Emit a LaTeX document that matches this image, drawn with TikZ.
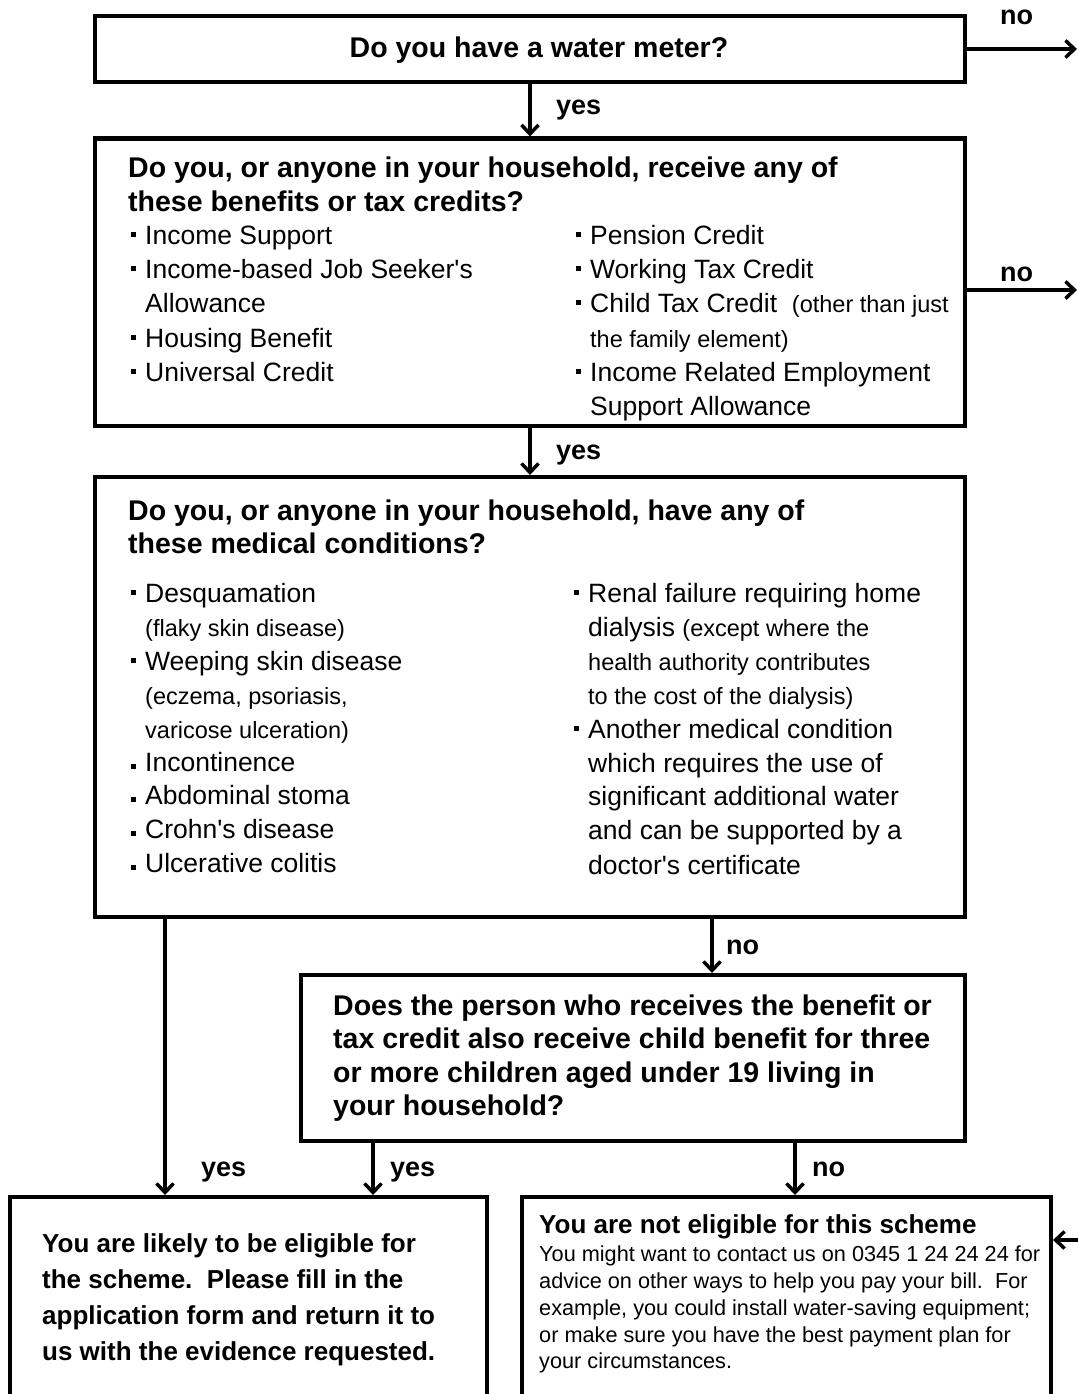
\documentclass[tikz,border=0pt]{standalone}
\usepackage{fontspec}
\setmainfont{Liberation Sans}[Ligatures=TeXOff]
\usetikzlibrary{arrows.meta}
\newcommand\fT{\fontsize{28.5}{34}\selectfont\bfseries}
\newcommand\fL{\fontsize{27}{32}\selectfont\bfseries}
\newcommand\fR{\fontsize{26.5}{32}\selectfont}
\newcommand\fS{\fontsize{23.5}{28}\selectfont}
\newcommand\fV{\fontsize{26}{36}\selectfont\bfseries}
\newcommand\fW{\fontsize{21.7}{27}\selectfont}
\newcommand\bh{\llap{\rule[7.5pt]{5pt}{5pt}\hspace{9pt}}}
\newcommand\bo{\llap{\rule[2pt]{5pt}{5pt}\hspace{9pt}}}
\begin{document}
\begin{tikzpicture}[x=1pt,y=-1pt,
  box/.style={draw, line width=4pt, inner sep=0pt, fill=white},
  arr/.style={line width=3.5pt, -{Straight Barb[length=9pt,width=17pt]}},
  txt/.style={anchor=base west, inner sep=0pt},
  lab/.style={anchor=base west, inner sep=0pt, font=\fL}]
\useasboundingbox (0,0) rectangle (1078,1394);
\fill[white] (0,0) rectangle (1078,1394);
\clip (0,0) rectangle (1078,1394);

% boxes
\node[box, minimum width=870pt, minimum height=65.5pt] (b1) at (530,49.25) {};
\node[box, minimum width=870pt, minimum height=287.5pt] (b2) at (530,282.25) {};
\node[box, minimum width=870pt, minimum height=440pt] (b3) at (530,697) {};
\node[box, minimum width=664pt, minimum height=166pt] (b4) at (633,1058) {};
\node[box, minimum width=477pt, minimum height=233pt] (b5) at (248.5,1313.5) {};
\node[box, minimum width=529pt, minimum height=233pt] (b6) at (786.5,1313.5) {};

% connectors
\coordinate (r1) at (1077,49);
\coordinate (r2) at (1077,290);
\coordinate (r6) at (1078,1240);
\coordinate (v712) at (712,0);
\coordinate (v165) at (165,0);
\coordinate (v373) at (373,0);
\coordinate (v795) at (795,0);
\draw[arr] (b1.south) -- (b2.north);
\draw[arr] (b2.south) -- (b3.north);
\draw[arr] (b1.east |- r1) -- (r1);
\draw[arr] (b2.east |- r2) -- (r2);
\draw[arr] (b3.south -| v712) -- (b4.north -| v712);
\draw[arr] (b3.south -| v165) -- (b5.north -| v165);
\draw[arr] (b4.south -| v373) -- (b5.north -| v373);
\draw[arr] (b4.south -| v795) -- (b6.north -| v795);
\draw[arr] (r6) -- (b6.east |- r6);

% labels
\node[lab] (l1) at (1000,25) {no};
\node[lab] (l2) at (556,115) {yes};
\node[lab] (l3) at (1000,281) {no};
\node[lab] (l4) at (556,459) {yes};
\node[lab] (l5) at (726,954) {no};
\node[lab] (l6) at (201,1176) {yes};
\node[lab] (l7) at (390,1176) {yes};
\node[lab] (l8) at (812,1176) {no};

% box 1
\node[anchor=base, inner sep=0pt, font=\fT] (t1) at (539,58) {Do you have a water meter?};

% box 2
\node[txt, font=\fT] (t2a) at (128,177) {Do you, or anyone in your household, receive any of};
\node[txt, font=\fT] (t2b) at (128,211) {these benefits or tax credits?};
\node[txt, font=\fR] (t2c) at (145,244) {\bh Income Support};
\node[txt, font=\fR] (t2d) at (145,278) {\bh Income-based Job Seeker's};
\node[txt, font=\fR] (t2e) at (145,312) {Allowance};
\node[txt, font=\fR] (t2f) at (145,347) {\bh Housing Benefit};
\node[txt, font=\fR] (t2g) at (145,381) {\bh Universal Credit};
\node[txt, font=\fR] (t2h) at (590,244) {\bh Pension Credit};
\node[txt, font=\fR] (t2i) at (590,278) {\bh Working Tax Credit};
\node[txt, font=\fR] (t2j) at (590,312) {\bh Child Tax Credit\ \ {\fS(other than just}};
\node[txt, font=\fS] (t2k) at (590,347) {the family element)};
\node[txt, font=\fR] (t2l) at (590,381) {\bh Income Related Employment};
\node[txt, font=\fR] (t2m) at (590,415) {Support Allowance};

% box 3
\node[txt, font=\fT] (t3a) at (128,520) {Do you, or anyone in your household, have any of};
\node[txt, font=\fT] (t3b) at (128,553) {these medical conditions?};
\node[txt, font=\fR] (t3c) at (145,602) {\bh Desquamation};
\node[txt, font=\fS] (t3d) at (145,636) {(flaky skin disease)};
\node[txt, font=\fR] (t3e) at (145,670) {\bh Weeping skin disease};
\node[txt, font=\fS] (t3f) at (145,704) {(eczema, psoriasis,};
\node[txt, font=\fS] (t3g) at (145,738) {varicose ulceration)};
\node[txt, font=\fR] (t3h) at (145,771) {\bo Incontinence};
\node[txt, font=\fR] (t3i) at (145,804) {\bo Abdominal stoma};
\node[txt, font=\fR] (t3j) at (145,838) {\bo Crohn's disease};
\node[txt, font=\fR] (t3k) at (145,872) {\bo Ulcerative colitis};
\node[txt, font=\fR] (t3l) at (588,602) {\bh Renal failure requiring home};
\node[txt, font=\fR] (t3m) at (588,636) {dialysis {\fS(except where the}};
\node[txt, font=\fS] (t3n) at (588,670) {health authority contributes};
\node[txt, font=\fS] (t3o) at (588,704) {to the cost of the dialysis)};
\node[txt, font=\fR] (t3p) at (588,738) {\bh Another medical condition};
\node[txt, font=\fR] (t3q) at (588,772) {which requires the use of};
\node[txt, font=\fR] (t3r) at (588,805) {significant additional water};
\node[txt, font=\fR] (t3s) at (588,839) {and can be supported by a};
\node[txt, font=\fR] (t3t) at (588,874) {doctor's certificate};

% box 4
\node[txt, font=\fT] (t4a) at (333,1015) {Does the person who receives the benefit or};
\node[txt, font=\fT] (t4b) at (333,1048) {tax credit also receive child benefit for three};
\node[txt, font=\fT] (t4c) at (333,1082) {or more children aged under 19 living in};
\node[txt, font=\fT] (t4d) at (333,1115) {your household?};

% box 5
\node[txt, font=\fV] (t5a) at (42,1252) {You are likely to be eligible for};
\node[txt, font=\fV] (t5b) at (42,1288) {the scheme.\ \ Please fill in the};
\node[txt, font=\fV] (t5c) at (42,1324) {application form and return it to};
\node[txt, font=\fV] (t5d) at (42,1360) {us with the evidence requested.};

% box 6
\node[txt, font=\fV] (t6a) at (539,1233) {You are not eligible for this scheme};
\node[txt, font=\fW] (t6b) at (539,1261) {You might want to contact us on 0345 1 24 24 24 for};
\node[txt, font=\fW] (t6c) at (539,1288) {advice on other ways to help you pay your bill.\ \ For};
\node[txt, font=\fW] (t6d) at (539,1315) {example, you could install water-saving equipment;};
\node[txt, font=\fW] (t6e) at (539,1342) {or make sure you have the best payment plan for};
\node[txt, font=\fW] (t6f) at (539,1368) {your circumstances.};
\end{tikzpicture}
\end{document}
